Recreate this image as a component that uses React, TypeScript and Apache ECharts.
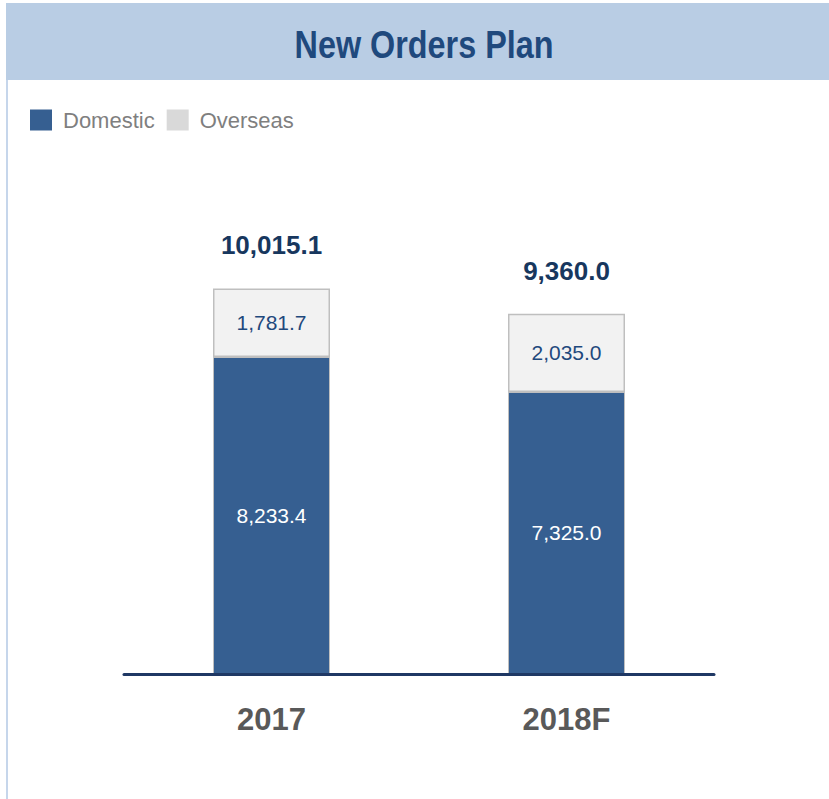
import React, { useEffect, useRef } from "react";
import * as echarts from "echarts";

const categories = ["2017", "2018F"];
const domestic = [8233.4, 7325.0];
const overseas = [1781.7, 2035.0];
const seriesNames = ["Domestic", "Overseas"];
const titleText = "New Orders Plan";

const totals = domestic.map((d, i) => Math.round((d + overseas[i]) * 10) / 10);

const fmt = (v: number) =>
  v.toLocaleString("en-US", { minimumFractionDigits: 1, maximumFractionDigits: 1 });

const FONT = "'Liberation Sans', Arial, sans-serif";

export default function App() {
  const ref = useRef<HTMLDivElement>(null);
  useEffect(() => {
    if (!ref.current) return;
    const chart = echarts.init(ref.current, null, { renderer: "svg" });
    chart.setOption({
      animation: false,
      backgroundColor: "#ffffff",
      graphic: [
        {
          type: "rect",
          z: -10,
          shape: { x: 6, y: 3, width: 823, height: 77 },
          style: { fill: "#B9CDE4" },
        },
        {
          type: "line",
          z: -10,
          shape: { x1: 7, y1: 80, x2: 7, y2: 799 },
          style: { stroke: "#C6D6EB", lineWidth: 2 },
        },
        {
          type: "text",
          x: 424,
          y: 45,
          scaleX: 0.83,
          style: {
            text: titleText,
            align: "center",
            verticalAlign: "middle",
            font: "bold 39px " + FONT,
            fill: "#1F497D",
          },
        },
      ],
      legend: {
        left: 25,
        top: 104,
        itemWidth: 22,
        itemHeight: 21,
        itemGap: 12,
        icon: "rect",
        selectedMode: false,
        textStyle: { fontFamily: FONT, fontSize: 22, color: "#7F7F7F", padding: [0, 0, 0, 6] },
        data: [
          { name: seriesNames[0], itemStyle: { color: "#365F91", borderWidth: 0 } },
          { name: seriesNames[1], itemStyle: { color: "#D9D9D9", borderWidth: 0 } },
        ],
      },
      grid: { left: 124, right: 115, top: 212, bottom: 125 },
      xAxis: {
        type: "category",
        data: categories,
        z: 5,
        axisLine: { lineStyle: { color: "#1F3864", width: 3 } },
        axisTick: { show: false },
        axisLabel: {
          margin: 30,
          fontFamily: FONT,
          fontWeight: "bold",
          fontSize: 31,
          color: "#595959",
        },
      },
      yAxis: {
        type: "value",
        min: 0,
        max: 12000,
        show: false,
        splitLine: { show: false },
      },
      series: [
        {
          name: seriesNames[0],
          type: "bar",
          stack: "total",
          barWidth: 117,
          data: domestic,
          itemStyle: { color: "#365F91", borderColor: "#BFBFBF", borderWidth: 1 },
          label: {
            show: true,
            position: "inside",
            formatter: (p: any) => fmt(p.value),
            fontFamily: FONT,
            fontSize: 21,
            color: "#ffffff",
          },
        },
        {
          name: seriesNames[1],
          type: "bar",
          stack: "total",
          barWidth: 117,
          data: overseas,
          itemStyle: { color: "#F2F2F2", borderColor: "#BFBFBF", borderWidth: 1.5 },
          label: {
            show: true,
            position: "inside",
            formatter: (p: any) => fmt(p.value),
            fontFamily: FONT,
            fontSize: 21,
            color: "#1F497D",
          },
        },
        {
          name: "Total",
          type: "bar",
          barWidth: 117,
          barGap: "-100%",
          silent: true,
          data: totals,
          itemStyle: { color: "rgba(0,0,0,0)" },
          label: {
            show: true,
            position: "top",
            distance: 30,
            formatter: (p: any) => fmt(p.value),
            fontFamily: FONT,
            fontWeight: "bold",
            fontSize: 26,
            color: "#17375E",
          },
        },
      ],
    });
    return () => chart.dispose();
  }, []);
  return (
    <div
      ref={ref}
      style={{ position: "fixed", left: 0, top: 0, width: 829, height: 799 }}
    />
  );
}
